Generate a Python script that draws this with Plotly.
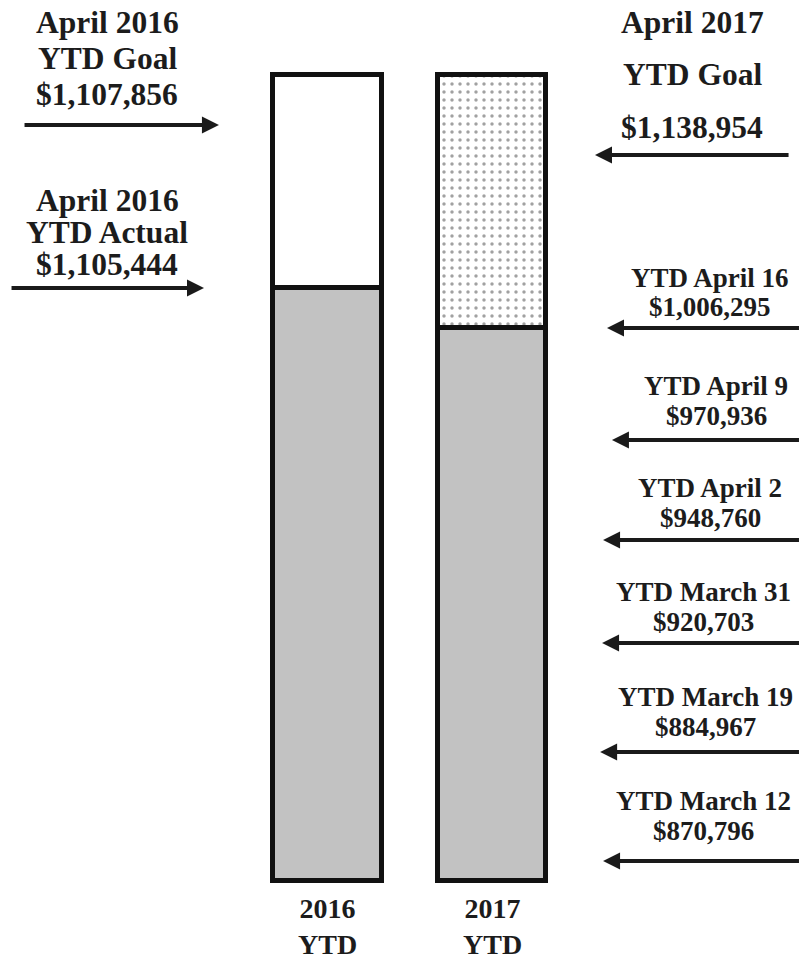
import plotly.graph_objects as go

# ---------------- data ----------------
categories = ["2016", "2017"]
cat_sub = "YTD"
# share of bar height that is filled (the chart is schematic)
fill_share = [0.736, 0.687]
total_share = [1.0, 1.0]

goal_2016 = 1107856
actual_2016 = 1105444
goal_2017 = 1138954
week_labels = ["YTD April 16", "YTD April 9", "YTD April 2",
               "YTD March 31", "YTD March 19", "YTD March 12"]
week_values = [1006295, 970936, 948760, 920703, 884967, 870796]

# ---------------- layout constants ----------------
FONT = "Liberation Serif, Times New Roman, serif"
TXT = "#1c1c1c"
GRAY = "#c2c2c2"

def money(v):
    return "${:,}".format(v)

fig = go.Figure()
fig.add_trace(go.Bar(
    x=[0, 1], y=fill_share, width=0.66,
    marker=dict(color=GRAY, line=dict(color="#111", width=5)),
    hoverinfo="skip", showlegend=False))
fig.add_trace(go.Bar(
    x=[0, 1], y=[t - f for t, f in zip(total_share, fill_share)], width=0.66,
    marker=dict(color=["white", "white"],
                line=dict(color="#111", width=5),
                pattern=dict(shape=["", "."], fgcolor="#222", bgcolor="white",
                             size=8, solidity=0.15)),
    hoverinfo="skip", showlegend=False))

ann = []

def text(x, y, s, size):
    ann.append(dict(x=x, y=y, xref="x", yref="y", text="<b>%s</b>" % s,
                    showarrow=False, xanchor="center", yanchor="middle",
                    font=dict(family=FONT, size=size, color=TXT)))

def arrow(x_tip, x_tail, y):
    ann.append(dict(x=x_tip, y=y, ax=x_tail, ay=y, xref="x", yref="y",
                    axref="x", ayref="y", text="", showarrow=True,
                    arrowhead=2, arrowsize=0.85, arrowwidth=4,
                    arrowcolor="#1a1a1a", standoff=0, startstandoff=0))

TOP = 31.5
LOW = 27

# left: 2016 goal
for s, y in zip(["April 2016", "YTD Goal", money(goal_2016)], [1.066, 1.0217, 0.977]):
    text(-1.34, y, s, TOP)
arrow(-0.66, -1.851, 0.9386)
# left: 2016 actual
for s, y in zip(["April 2016", "YTD Actual", money(actual_2016)], [0.845, 0.8045, 0.765]):
    text(-1.34, y, s, TOP)
arrow(-0.751, -1.93, 0.7362)

# right: 2017 goal
for s, y in zip(["April 2017", "YTD Goal", money(goal_2017)], [1.066, 1.0006, 0.936]):
    text(2.216, y, s, TOP)
arrow(1.626, 2.8116, 0.9013)

# right: weekly YTD
week_y = [0.7306, 0.5953, 0.4693, 0.3402, 0.2098, 0.0801]
week_x = [2.325, 2.362, 2.325, 2.285, 2.30, 2.285]
tip_x = [1.699, 1.729, 1.675, 1.669, 1.657, 1.675]
arrow_y = [0.6865, 0.5475, 0.4233, 0.2955, 0.1601, 0.0248]
for lab, val, x, y, tx, ay in zip(week_labels, week_values, week_x, week_y, tip_x, arrow_y):
    text(x, y + 0.0186, lab, LOW)
    text(x, y - 0.0186, money(val), LOW)
    arrow(tx, 2.875, ay)

# bottom category labels (two lines in one text)
for i, c in enumerate(categories):
    text(i, -0.0565, "%s<br>%s" % (c, cat_sub), 28)

fig.update_layout(
    barmode="stack", bargap=0,
    width=799, height=960,
    margin=dict(l=0, r=0, t=0, b=0),
    paper_bgcolor="white", plot_bgcolor="white",
    xaxis=dict(range=[-1.991, 2.866], visible=False, fixedrange=True),
    yaxis=dict(range=[-0.0981, 1.0937], visible=False, fixedrange=True),
    annotations=ann,
)
fig.write_html("out.html", config={"displayModeBar": False})

# remove default page margin so the figure sits at the window's top-left
with open("out.html", encoding="utf-8") as f:
    html = f.read()
html = html.replace("<head>", "<head><style>html,body{margin:0;padding:0;overflow:hidden}</style>", 1)
with open("out.html", "w", encoding="utf-8") as f:
    f.write(html)
